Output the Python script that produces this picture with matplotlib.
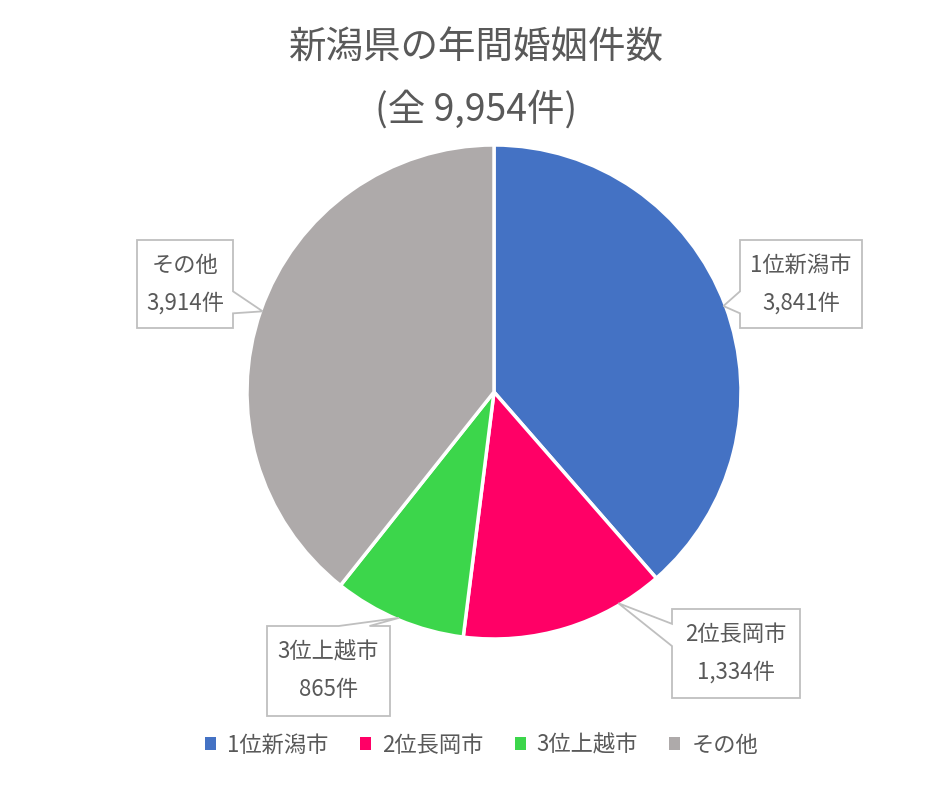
import numpy as np
import matplotlib
matplotlib.use("Agg")
import matplotlib.pyplot as plt
from matplotlib.patches import Polygon, Patch

plt.rcParams['font.family'] = ['Noto Sans CJK JP', 'DejaVu Sans']

# データ
categories = ["1位新潟市", "2位長岡市", "3位上越市", "その他"]
counts = [3841, 1334, 865, 3914]
colors = ["#4472C4", "#FF0066", "#3CD64B", "#AEAAAA"]
total = sum(counts)

text_color = "#595959"

fig = plt.figure(figsize=(9.52, 7.85), dpi=100)
ax = fig.add_axes([0, 0, 1, 1])

cx, cy, r = 494, 393, 247
wedges, _ = ax.pie(counts, colors=colors, startangle=90, counterclock=False,
                   center=(cx, cy), radius=r,
                   wedgeprops=dict(edgecolor="white", linewidth=2.5), frame=True)
ax.set_xlim(0, 952)
ax.set_ylim(0, 785)
ax.set_aspect("equal")
ax.axis("off")

# 吹き出しの位置 (x0, y0, x1, y1) と矢印の位置(扇形内の割合)
boxes = [(740, 457, 862, 545), (672, 87, 800, 176), (267, 69, 390, 159), (137, 457, 233, 545)]
anchor = [0.5, 0.22, 0.5, 0.5]


def callout(box, tip):
    x0, y0, x1, y1 = box
    w, h = x1 - x0, y1 - y0
    mx, my = (x0 + x1) / 2, (y0 + y1) / 2
    dx, dy = (tip[0] - mx) / w, (tip[1] - my) / h
    tl, tr, br, bl = (x0, y1), (x1, y1), (x1, y0), (x0, y0)
    if abs(dx) > abs(dy):
        # 左右の辺
        if dy > 0:
            a, b = y1 - h * 2 / 12, y1 - h * 5 / 12
        else:
            a, b = y1 - h * 7 / 12, y1 - h * 10 / 12
        if dx < 0:
            pts = [tl, tr, br, bl, (x0, b), tip, (x0, a)]
        else:
            pts = [tl, tr, (x1, a), tip, (x1, b), br, bl]
    else:
        # 上下の辺
        if dx > 0:
            a, b = x0 + w * 7 / 12, x0 + w * 10 / 12
        else:
            a, b = x0 + w * 2 / 12, x0 + w * 5 / 12
        if dy > 0:
            pts = [tl, (a, y1), tip, (b, y1), tr, br, bl]
        else:
            pts = [tl, tr, br, (b, y0), tip, (a, y0), bl]
    return Polygon(pts, closed=True, facecolor="white", edgecolor="#BFBFBF",
                   linewidth=1.3, zorder=5)


for i, wdg in enumerate(wedges):
    t1, t2 = sorted([wdg.theta1, wdg.theta2])
    ang = np.deg2rad(t2 - (t2 - t1) * anchor[i])
    tip = (cx + (r - 2) * np.cos(ang), cy + (r - 2) * np.sin(ang))
    box = boxes[i]
    ax.add_patch(callout(box, tip))
    bx = (box[0] + box[2]) / 2
    by = (box[1] + box[3]) / 2
    ax.text(bx, by + 19, categories[i], ha="center", va="center", fontsize=16,
            color=text_color, zorder=6)
    ax.text(bx, by - 19, f"{counts[i]:,}件", ha="center", va="center", fontsize=16,
            color=text_color, zorder=6)

# タイトル
fig.text(0.5, 1 - 48 / 785, "新潟県の年間婚姻件数", ha="center", va="center",
         fontsize=27, color=text_color)
fig.text(0.5, 1 - 110 / 785, f"(全 {total:,}件)", ha="center", va="center",
         fontsize=27, color=text_color)

# 凡例
handles = [Patch(facecolor=c, edgecolor="none") for c in colors]
fig.legend(handles, categories, loc="center", bbox_to_anchor=(0.506, 1 - 745 / 785),
           ncol=4, frameon=False, fontsize=16, handlelength=0.5, handleheight=0.5,
           handletextpad=0.5, columnspacing=1.4, labelcolor=text_color)

fig.savefig("out.png", dpi=100)
